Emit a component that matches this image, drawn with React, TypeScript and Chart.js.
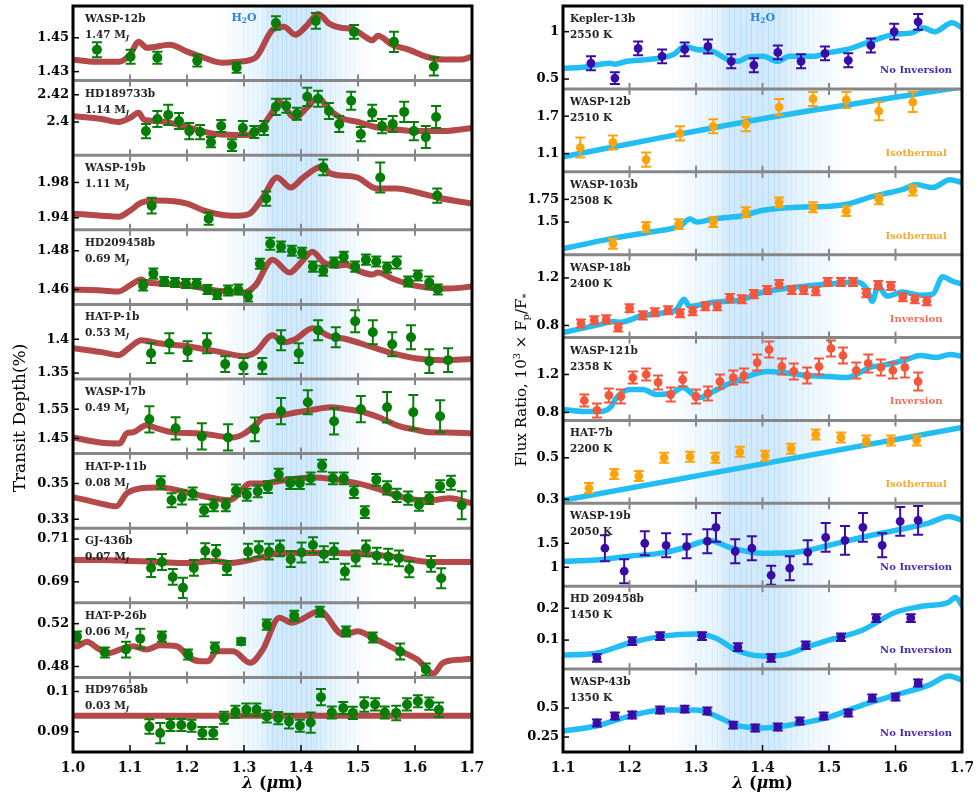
import React, { useEffect, useRef } from 'react';
import { Chart, registerables } from 'chart.js';

Chart.register(...registerables);

const SERIF = '"DejaVu Serif", "Liberation Serif", serif';

// ---------------- axis ticks ----------------
const leftXTicks = [1.0, 1.1, 1.2, 1.3, 1.4, 1.5, 1.6, 1.7];
const leftXLabels = ['1.0', '1.1', '1.2', '1.3', '1.4', '1.5', '1.6', '1.7'];
const rightXTicks = [1.1, 1.2, 1.3, 1.4, 1.5, 1.6, 1.7];
const rightXLabels = ['1.1', '1.2', '1.3', '1.4', '1.5', '1.6', '1.7'];

// H2O band profile [wavelength, strength]
const h2oBand = [[1.26, 0], [1.29, 0.09], [1.33, 0.18], [1.35, 0.34], [1.42, 0.34], [1.45, 0.2], [1.49, 0.09], [1.53, 0]];

// ---------------- transmission (left) ----------------
const wasp12Model = [[1.00,1.4371],[1.04,1.4359],[1.08,1.4359],[1.10,1.440],[1.115,1.4476],[1.13,1.4441],[1.17,1.4459],[1.20,1.4418],[1.23,1.4382],[1.26,1.4353],[1.29,1.4359],[1.32,1.4382],[1.35,1.4547],[1.37,1.4565],[1.39,1.4518],[1.41,1.4571],[1.43,1.4641],[1.45,1.4582],[1.47,1.4559],[1.49,1.4553],[1.51,1.4512],[1.525,1.4485],[1.535,1.4512],[1.56,1.4459],[1.59,1.4429],[1.62,1.4388],[1.65,1.4371],[1.68,1.4371],[1.70,1.4388]];
const wasp12Points = [[1.042,1.4429,0.0044],[1.101,1.4388,0.0041],[1.148,1.4382,0.0035],[1.218,1.4365,0.0035],[1.287,1.4324,0.003],[1.356,1.4588,0.004],[1.426,1.4600,0.0047],[1.493,1.4535,0.004],[1.563,1.4476,0.006],[1.633,1.4330,0.0053]];

const hd189733Model = [[1.00,2.4044],[1.05,2.4022],[1.08,2.400],[1.10,2.403],[1.115,2.4067],[1.125,2.4015],[1.15,2.4007],[1.20,2.3963],[1.25,2.3911],[1.30,2.3904],[1.32,2.3919],[1.35,2.4074],[1.36,2.4148],[1.39,2.403],[1.41,2.4104],[1.43,2.4178],[1.45,2.4089],[1.47,2.403],[1.50,2.400],[1.53,2.3963],[1.56,2.3948],[1.60,2.3933],[1.65,2.3933],[1.70,2.3956]];
const hd189733Points = [[1.128,2.3933,0.0052],[1.148,2.4022,0.0059],[1.167,2.4052,0.0074],[1.186,2.4007,0.0059],[1.204,2.3933,0.0059],[1.223,2.3926,0.0052],[1.242,2.3852,0.0037],[1.260,2.397,0.0044],[1.279,2.383,0.0044],[1.298,2.3956,0.0052],[1.318,2.3926,0.0044],[1.335,2.3956,0.0052],[1.356,2.4111,0.0059],[1.374,2.4119,0.0052],[1.393,2.406,0.0044],[1.411,2.4185,0.0067],[1.430,2.417,0.0059],[1.449,2.4081,0.0059],[1.467,2.3985,0.0059],[1.488,2.4156,0.0067],[1.505,2.3911,0.0052],[1.525,2.4067,0.0059],[1.542,2.397,0.0052],[1.561,2.3985,0.0059],[1.581,2.4074,0.0074],[1.598,2.3933,0.0067],[1.619,2.3889,0.0081],[1.637,2.4037,0.0081]];

const wasp19Model = [[1.00,1.9446],[1.05,1.9423],[1.08,1.9411],[1.10,1.948],[1.12,1.9571],[1.15,1.9594],[1.20,1.956],[1.23,1.948],[1.26,1.9434],[1.29,1.9423],[1.31,1.9446],[1.333,1.9629],[1.358,1.9857],[1.382,1.9743],[1.404,1.9857],[1.437,1.998],[1.451,1.9903],[1.498,1.9857],[1.533,1.9731],[1.568,1.9731],[1.604,1.9686],[1.639,1.9629],[1.70,1.956]];
const wasp19Points = [[1.138,1.9537,0.009],[1.238,1.9389,0.0069],[1.339,1.9617,0.008],[1.439,1.9971,0.009],[1.539,1.9857,0.017],[1.639,1.9651,0.008]];

const hd209458Model = [[1.00,1.46],[1.05,1.4595],[1.08,1.459],[1.10,1.4621],[1.12,1.4651],[1.13,1.4636],[1.15,1.4631],[1.20,1.4621],[1.25,1.4595],[1.30,1.4585],[1.32,1.4621],[1.35,1.4754],[1.38,1.4687],[1.40,1.4739],[1.42,1.4795],[1.44,1.4739],[1.46,1.4723],[1.48,1.4728],[1.50,1.4697],[1.525,1.4677],[1.535,1.4687],[1.56,1.4657],[1.59,1.4626],[1.62,1.4610],[1.66,1.4605],[1.70,1.4615]];
const hd209458Points = [[1.123,1.4621,0.0026],[1.141,1.4682,0.0026],[1.160,1.4641,0.0023],[1.179,1.4636,0.0023],[1.198,1.4631,0.0023],[1.217,1.4631,0.0023],[1.236,1.46,0.0023],[1.253,1.4574,0.0023],[1.272,1.4595,0.0026],[1.29,1.46,0.0026],[1.307,1.4564,0.0026],[1.328,1.4733,0.0026],[1.346,1.4836,0.0031],[1.365,1.4821,0.0026],[1.384,1.48,0.0026],[1.402,1.479,0.0026],[1.421,1.4718,0.0026],[1.439,1.4697,0.0026],[1.458,1.4739,0.0026],[1.475,1.4769,0.0026],[1.495,1.4718,0.0026],[1.514,1.4754,0.0026],[1.532,1.4744,0.0026],[1.551,1.4713,0.0026],[1.568,1.4739,0.0031],[1.588,1.4641,0.0026],[1.605,1.4672,0.0026],[1.625,1.4636,0.0031],[1.640,1.46,0.0026]];

const hatp1Model = [[1.00,1.3868],[1.05,1.3809],[1.08,1.3765],[1.10,1.3882],[1.12,1.3985],[1.15,1.3941],[1.20,1.3897],[1.25,1.3824],[1.30,1.375],[1.32,1.3809],[1.35,1.4059],[1.37,1.3956],[1.39,1.40],[1.42,1.4162],[1.45,1.4044],[1.48,1.40],[1.52,1.3897],[1.56,1.3794],[1.60,1.372],[1.65,1.3691],[1.70,1.3706]];
const hatp1Points = [[1.137,1.3794,0.0147],[1.169,1.3941,0.0147],[1.201,1.3824,0.0147],[1.235,1.3941,0.0147],[1.267,1.3632,0.0118],[1.299,1.3603,0.0118],[1.332,1.3603,0.0118],[1.365,1.3985,0.0147],[1.396,1.3794,0.0147],[1.43,1.4132,0.0147],[1.461,1.4029,0.0147],[1.495,1.4265,0.0162],[1.526,1.4103,0.0176],[1.56,1.3926,0.0176],[1.593,1.4029,0.0176],[1.625,1.3676,0.0176],[1.658,1.3691,0.0176]];

const wasp17Model = [[1.00,1.4534],[1.047,1.436],[1.082,1.4328],[1.094,1.4672],[1.105,1.4707],[1.129,1.4948],[1.147,1.4845],[1.175,1.4707],[1.223,1.4672],[1.281,1.4534],[1.30,1.466],[1.323,1.5017],[1.333,1.522],[1.36,1.528],[1.393,1.5397],[1.42,1.548],[1.451,1.557],[1.48,1.55],[1.509,1.54],[1.54,1.52],[1.568,1.4948],[1.60,1.48],[1.626,1.4707],[1.66,1.47],[1.70,1.4672]];
const wasp17Points = [[1.134,1.5155,0.045],[1.18,1.4845,0.038],[1.226,1.4569,0.045],[1.272,1.4534,0.045],[1.319,1.481,0.041],[1.365,1.5431,0.045],[1.412,1.5741,0.041],[1.458,1.5086,0.045],[1.505,1.55,0.045],[1.551,1.5569,0.052],[1.597,1.5397,0.059],[1.644,1.5259,0.055]];

const hatp11Model = [[1.00,0.3424],[1.047,0.3389],[1.076,0.3372],[1.094,0.3444],[1.117,0.3472],[1.152,0.3478],[1.223,0.3433],[1.275,0.3406],[1.311,0.35],[1.333,0.35],[1.368,0.3517],[1.421,0.3533],[1.491,0.3506],[1.526,0.3478],[1.586,0.3417],[1.626,0.3406],[1.661,0.3417],[1.70,0.3389]];
const hatp11Points = [[1.154,0.3506,0.0035],[1.173,0.3406,0.0039],[1.191,0.3422,0.0039],[1.21,0.3444,0.0033],[1.23,0.335,0.0033],[1.247,0.3378,0.0033],[1.268,0.3378,0.0033],[1.286,0.3461,0.0033],[1.305,0.3437,0.0033],[1.324,0.3456,0.0033],[1.342,0.348,0.0033],[1.361,0.355,0.0033],[1.381,0.3502,0.0033],[1.398,0.3502,0.0033],[1.417,0.3529,0.0033],[1.437,0.36,0.0033],[1.456,0.3529,0.0033],[1.475,0.3529,0.0033],[1.493,0.3452,0.0033],[1.512,0.334,0.0033],[1.532,0.352,0.0033],[1.551,0.3476,0.0037],[1.568,0.3433,0.0037],[1.588,0.3418,0.0037],[1.607,0.3381,0.0033],[1.625,0.3418,0.0033],[1.644,0.3485,0.0033],[1.663,0.3504,0.0039],[1.682,0.3378,0.0078]];

const gj436Model = [[1.00,0.7002],[1.05,0.7002],[1.10,0.6998],[1.15,0.6993],[1.20,0.6988],[1.25,0.6998],[1.275,0.6988],[1.333,0.7016],[1.363,0.7035],[1.451,0.7035],[1.51,0.703],[1.568,0.7016],[1.626,0.6993],[1.70,0.6993]];
const gj436Points = [[1.137,0.6965,0.0042],[1.156,0.6993,0.0037],[1.175,0.6923,0.0037],[1.193,0.6872,0.0047],[1.212,0.6965,0.0037],[1.232,0.7044,0.0037],[1.251,0.7035,0.0037],[1.27,0.6965,0.0033],[1.307,0.7041,0.0037],[1.326,0.7053,0.0037],[1.344,0.7041,0.0037],[1.363,0.7057,0.0037],[1.382,0.7006,0.0037],[1.401,0.7037,0.0047],[1.421,0.7072,0.0037],[1.440,0.7029,0.0037],[1.458,0.7044,0.0037],[1.477,0.6948,0.0037],[1.496,0.701,0.0037],[1.514,0.7057,0.0037],[1.533,0.7022,0.0037],[1.553,0.7018,0.0037],[1.572,0.701,0.0037],[1.590,0.6959,0.0037],[1.628,0.6984,0.0037],[1.646,0.6917,0.0047]];

const hatp26Model = [[1.00,0.4989],[1.007,0.4989],[1.024,0.503],[1.047,0.4958],[1.065,0.4927],[1.082,0.4958],[1.105,0.4989],[1.129,0.4958],[1.152,0.4998],[1.182,0.4989],[1.205,0.4881],[1.223,0.4849],[1.237,0.4849],[1.252,0.4942],[1.281,0.4942],[1.311,0.4834],[1.333,0.4958],[1.362,0.5256],[1.384,0.5209],[1.433,0.5315],[1.474,0.5098],[1.50,0.5129],[1.521,0.5082],[1.561,0.4974],[1.604,0.4865],[1.632,0.4735],[1.649,0.4834],[1.684,0.4865],[1.70,0.4872]];
const hatp26Points = [[1.007,0.5079,0.0047],[1.056,0.493,0.0047],[1.093,0.4958,0.0074],[1.118,0.506,0.0093],[1.156,0.5079,0.0047],[1.202,0.4912,0.0047],[1.249,0.4977,0.0047],[1.295,0.5033,0.003],[1.340,0.5191,0.0047],[1.388,0.5274,0.0047],[1.433,0.5312,0.0047],[1.479,0.5126,0.0047],[1.526,0.507,0.0047],[1.574,0.494,0.0074],[1.619,0.4772,0.0056]];

const hd97658Model = [[1.0,0.094],[1.7,0.094]];
const hd97658Points = [[1.134,0.0913,0.0018],[1.153,0.0897,0.0025],[1.171,0.0917,0.0015],[1.190,0.0917,0.0015],[1.208,0.0915,0.0015],[1.227,0.0897,0.0015],[1.246,0.0897,0.0015],[1.265,0.0935,0.0015],[1.285,0.095,0.0015],[1.304,0.0955,0.0015],[1.322,0.0955,0.0015],[1.34,0.0938,0.0015],[1.36,0.0934,0.0015],[1.379,0.0926,0.0018],[1.398,0.0915,0.0015],[1.417,0.0923,0.0025],[1.435,0.0986,0.002],[1.454,0.0948,0.0015],[1.474,0.0959,0.0015],[1.491,0.0947,0.0015],[1.511,0.0968,0.0018],[1.53,0.0968,0.0015],[1.547,0.0948,0.0015],[1.567,0.0947,0.0018],[1.586,0.0968,0.0015],[1.605,0.0976,0.0015],[1.625,0.097,0.0015],[1.642,0.0955,0.0018]];

// ---------------- emission (right) ----------------
const kepler13EmModel = [[1.1,0.6146],[1.13,0.625],[1.171,0.667],[1.178,0.656],[1.196,0.6875],[1.231,0.708],[1.266,0.76],[1.283,0.844],[1.301,0.8125],[1.326,0.79],[1.347,0.708],[1.363,0.6875],[1.377,0.729],[1.401,0.74],[1.422,0.6875],[1.441,0.74],[1.476,0.74],[1.501,0.781],[1.527,0.8125],[1.562,0.896],[1.596,0.969],[1.626,0.99],[1.641,1.042],[1.659,1.0],[1.685,1.094],[1.70,1.042]];
const kepler13EmPoints = [[1.142,0.667,0.073],[1.178,0.5104,0.0625],[1.213,0.8229,0.073],[1.249,0.7396,0.073],[1.283,0.8125,0.073],[1.318,0.8438,0.073],[1.353,0.6875,0.073],[1.387,0.6458,0.073],[1.423,0.7812,0.073],[1.458,0.6875,0.073],[1.494,0.7708,0.073],[1.529,0.6979,0.073],[1.563,0.8542,0.073],[1.598,1.0,0.083],[1.634,1.1042,0.083]];

const wasp12EmModel = [[1.1,1.05],[1.25,1.36],[1.4,1.66],[1.55,1.92],[1.7,2.17]];
const wasp12EmPoints = [[1.126,1.197,0.16],[1.175,1.278,0.113],[1.225,1.003,0.113],[1.276,1.424,0.113],[1.326,1.538,0.113],[1.375,1.57,0.113],[1.425,1.846,0.13],[1.476,1.976,0.113],[1.526,1.96,0.13],[1.575,1.781,0.146],[1.626,1.927,0.16]];

const wasp103EmModel = [[1.1,1.207],[1.171,1.315],[1.231,1.391],[1.276,1.457],[1.291,1.533],[1.301,1.50],[1.326,1.533],[1.351,1.554],[1.366,1.565],[1.401,1.63],[1.452,1.663],[1.501,1.674],[1.527,1.696],[1.566,1.783],[1.592,1.826],[1.611,1.859],[1.631,1.913],[1.656,1.88],[1.682,1.967],[1.70,1.935]];
const wasp103EmPoints = [[1.175,1.261,0.054],[1.225,1.446,0.054],[1.274,1.478,0.054],[1.326,1.5,0.054],[1.375,1.609,0.054],[1.425,1.717,0.054],[1.476,1.663,0.054],[1.526,1.62,0.054],[1.575,1.75,0.054],[1.626,1.848,0.054]];

const wasp18EmModel = [[1.1,0.74],[1.156,0.809],[1.175,0.834],[1.186,0.826],[1.216,0.877],[1.256,0.911],[1.271,0.936],[1.282,1.021],[1.29,0.962],[1.326,0.996],[1.366,1.013],[1.401,1.081],[1.452,1.123],[1.501,1.149],[1.542,1.166],[1.557,1.106],[1.565,1.004],[1.574,1.132],[1.587,1.047],[1.611,1.081],[1.637,1.055],[1.656,1.064],[1.671,1.209],[1.685,1.174],[1.70,1.149]];
const wasp18EmPoints = [[1.127,0.817,0.034],[1.147,0.843,0.034],[1.165,0.851,0.034],[1.183,0.783,0.034],[1.2,0.945,0.034],[1.22,0.885,0.034],[1.238,0.911,0.034],[1.258,0.928,0.034],[1.276,0.902,0.034],[1.295,0.919,0.034],[1.314,0.962,0.034],[1.332,0.962,0.034],[1.351,1.03,0.034],[1.369,1.021,0.034],[1.387,1.064,0.034],[1.407,1.098,0.034],[1.425,1.149,0.034],[1.444,1.098,0.034],[1.462,1.098,0.034],[1.48,1.089,0.034],[1.498,1.166,0.034],[1.518,1.166,0.034],[1.536,1.166,0.034],[1.556,1.072,0.034],[1.574,1.14,0.034],[1.593,1.132,0.034],[1.611,1.038,0.034],[1.629,1.021,0.034],[1.647,1.004,0.034]];

const wasp121EmModel = [[1.1,0.832],[1.13,0.811],[1.156,0.811],[1.171,0.853],[1.181,0.958],[1.2,1.042],[1.22,1.042],[1.241,0.989],[1.266,1.011],[1.28,1.063],[1.296,0.989],[1.306,0.958],[1.326,1.021],[1.347,1.095],[1.366,1.147],[1.377,1.179],[1.407,1.232],[1.431,1.221],[1.467,1.189],[1.501,1.179],[1.527,1.168],[1.562,1.274],[1.587,1.305],[1.617,1.358],[1.637,1.4],[1.662,1.379],[1.682,1.411],[1.70,1.389]];
const wasp121EmPoints = [[1.132,0.926,0.063],[1.151,0.821,0.074],[1.169,0.979,0.074],[1.187,0.968,0.074],[1.205,1.168,0.063],[1.225,1.2,0.063],[1.243,1.116,0.074],[1.262,0.989,0.074],[1.28,1.147,0.074],[1.3,0.968,0.074],[1.318,1.0,0.074],[1.336,1.126,0.074],[1.356,1.168,0.074],[1.372,1.189,0.074],[1.392,1.326,0.084],[1.41,1.463,0.084],[1.429,1.284,0.084],[1.447,1.232,0.084],[1.467,1.189,0.084],[1.485,1.284,0.084],[1.503,1.474,0.084],[1.521,1.4,0.084],[1.541,1.242,0.084],[1.559,1.316,0.095],[1.578,1.274,0.084],[1.596,1.242,0.084],[1.614,1.274,0.105],[1.634,1.126,0.095]];

const hat7EmModel = [[1.1,0.295],[1.7,0.646]];
const hat7EmPoints = [[1.139,0.354,0.024],[1.177,0.422,0.024],[1.214,0.412,0.024],[1.252,0.5,0.024],[1.291,0.505,0.024],[1.329,0.5,0.024],[1.366,0.529,0.024],[1.404,0.51,0.024],[1.443,0.544,0.024],[1.48,0.612,0.024],[1.518,0.598,0.024],[1.556,0.583,0.024],[1.593,0.583,0.024],[1.632,0.583,0.024]];

const wasp19EmModel = [[1.1,1.125],[1.15,1.15],[1.2,1.23],[1.25,1.3],[1.28,1.396],[1.32,1.56],[1.35,1.417],[1.4,1.29],[1.45,1.312],[1.5,1.458],[1.55,1.625],[1.6,1.77],[1.65,1.92],[1.68,2.06],[1.7,1.98]];
const wasp19EmPoints = [[1.163,1.396,0.27],[1.192,0.917,0.25],[1.223,1.5,0.25],[1.255,1.458,0.25],[1.286,1.437,0.25],[1.317,1.542,0.25],[1.330,1.833,0.3],[1.359,1.333,0.25],[1.384,1.396,0.25],[1.413,0.833,0.2],[1.441,0.979,0.25],[1.468,1.312,0.25],[1.495,1.625,0.3],[1.524,1.562,0.3],[1.551,1.833,0.3],[1.580,1.458,0.25],[1.607,1.958,0.3],[1.634,1.979,0.3]];

const hd209458EmModel = [[1.1,0.053],[1.15,0.059],[1.2,0.091],[1.25,0.1125],[1.3,0.119],[1.33,0.106],[1.36,0.069],[1.4,0.05],[1.43,0.053],[1.47,0.081],[1.5,0.1],[1.55,0.131],[1.6,0.1875],[1.64,0.206],[1.68,0.219],[1.69,0.234],[1.7,0.209]];
const hd209458EmPoints = [[1.151,0.044,0.012],[1.204,0.097,0.012],[1.246,0.1125,0.012],[1.309,0.1125,0.012],[1.363,0.078,0.012],[1.413,0.044,0.012],[1.465,0.084,0.012],[1.518,0.109,0.012],[1.571,0.169,0.012],[1.623,0.169,0.012]];

const wasp43EmModel = [[1.1,0.302],[1.15,0.345],[1.2,0.431],[1.25,0.483],[1.3,0.483],[1.33,0.431],[1.36,0.353],[1.4,0.328],[1.45,0.362],[1.5,0.422],[1.55,0.526],[1.6,0.612],[1.65,0.698],[1.68,0.776],[1.7,0.741]];
const wasp43EmPoints = [[1.151,0.371,0.03],[1.178,0.431,0.03],[1.204,0.44,0.03],[1.246,0.483,0.03],[1.283,0.491,0.03],[1.317,0.474,0.03],[1.356,0.353,0.03],[1.389,0.328,0.03],[1.423,0.336,0.03],[1.456,0.388,0.03],[1.492,0.431,0.03],[1.529,0.457,0.03],[1.565,0.586,0.03],[1.6,0.595,0.03],[1.634,0.716,0.03]];

// ---------------- colors ----------------
const GREEN = '#067d06';
const INDIGO = '#3a0ca5';
const ORANGE = '#ffa30a';
const RED = '#f4573c';
const NOTE = { no: '#4a2ab2', iso: '#f7a833', inv: '#f26e5c' };

const leftPanels = [
  { name: 'WASP-12b', info: '1.47', model: wasp12Model, pts: wasp12Points, min: 1.4247, max: 1.4688, ticks: [1.43, 1.45], labels: ['1.43', '1.45'], color: GREEN },
  { name: 'HD189733b', info: '1.14', model: hd189733Model, pts: hd189733Points, min: 2.3756, max: 2.4304, ticks: [2.4, 2.42], labels: ['2.4', '2.42'], color: GREEN },
  { name: 'WASP-19b', info: '1.11', model: wasp19Model, pts: wasp19Points, min: 1.9263, max: 2.0109, ticks: [1.94, 1.98], labels: ['1.94', '1.98'], color: GREEN },
  { name: 'HD209458b', info: '0.69', model: hd209458Model, pts: hd209458Points, min: 1.4523, max: 1.4908, ticks: [1.46, 1.48], labels: ['1.46', '1.48'], color: GREEN },
  { name: 'HAT-P-1b', info: '0.53', model: hatp1Model, pts: hatp1Points, min: 1.3412, max: 1.4515, ticks: [1.35, 1.4], labels: ['1.35', '1.4'], color: GREEN },
  { name: 'WASP-17b', info: '0.49', model: wasp17Model, pts: wasp17Points, min: 1.398, max: 1.6534, ticks: [1.45, 1.55], labels: ['1.45', '1.55'], color: GREEN },
  { name: 'HAT-P-11b', info: '0.08', model: hatp11Model, pts: hatp11Points, min: 0.325, max: 0.3667, ticks: [0.33, 0.35], labels: ['0.33', '0.35'], color: GREEN },
  { name: 'GJ-436b', info: '0.07', model: gj436Model, pts: gj436Points, min: 0.6802, max: 0.7151, ticks: [0.69, 0.71], labels: ['0.69', '0.71'], color: GREEN },
  { name: 'HAT-P-26b', info: '0.06', model: hatp26Model, pts: hatp26Points, min: 0.4698, max: 0.5395, ticks: [0.48, 0.52], labels: ['0.48', '0.52'], color: GREEN },
  { name: 'HD97658b', info: '0.03', model: hd97658Model, pts: hd97658Points, min: 0.085, max: 0.1035, ticks: [0.09, 0.1], labels: ['0.09', '0.1'], color: GREEN },
];

const rightPanels = [
  { name: 'Kepler-13b', info: '2550 K', model: kepler13EmModel, pts: kepler13EmPoints, min: 0.396, max: 1.271, ticks: [0.5, 1], labels: ['0.5', '1'], color: INDIGO, note: 'No Inversion', noteColor: NOTE.no },
  { name: 'WASP-12b', info: '2510 K', model: wasp12EmModel, pts: wasp12EmPoints, min: 0.808, max: 2.138, ticks: [1.1, 1.7], labels: ['1.1', '1.7'], color: ORANGE, note: 'Isothermal', noteColor: NOTE.iso },
  { name: 'WASP-103b', info: '2508 K', model: wasp103EmModel, pts: wasp103EmPoints, min: 1.141, max: 2.054, ticks: [1.5, 1.75], labels: ['1.5', '1.75'], color: ORANGE, note: 'Isothermal', noteColor: NOTE.iso },
  { name: 'WASP-18b', info: '2400 K', model: wasp18EmModel, pts: wasp18EmPoints, min: 0.698, max: 1.396, ticks: [0.8, 1.2], labels: ['0.8', '1.2'], color: RED, note: 'Inversion', noteColor: NOTE.inv },
  { name: 'WASP-121b', info: '2358 K', model: wasp121EmModel, pts: wasp121EmPoints, min: 0.716, max: 1.589, ticks: [0.8, 1.2], labels: ['0.8', '1.2'], color: RED, note: 'Inversion', noteColor: NOTE.inv },
  { name: 'HAT-7b', info: '2200 K', model: hat7EmModel, pts: hat7EmPoints, min: 0.2805, max: 0.68, ticks: [0.3, 0.5], labels: ['0.3', '0.5'], color: ORANGE, note: 'Isothermal', noteColor: NOTE.iso },
  { name: 'WASP-19b', info: '2050 K', model: wasp19EmModel, pts: wasp19EmPoints, min: 0.604, max: 2.333, ticks: [1, 1.5], labels: ['1', '1.5'], color: INDIGO, note: 'No Inversion', noteColor: NOTE.no },
  { name: 'HD 209458b', info: '1450 K', model: hd209458EmModel, pts: hd209458EmPoints, min: 0.009, max: 0.269, ticks: [0.1, 0.2], labels: ['0.1', '0.2'], color: INDIGO, note: 'No Inversion', noteColor: NOTE.no },
  { name: 'WASP-43b', info: '1350 K', model: wasp43EmModel, pts: wasp43EmPoints, min: 0.121, max: 0.836, ticks: [0.25, 0.5], labels: ['0.25', '0.5'], color: INDIGO, note: 'No Inversion', noteColor: NOTE.no },
];

const leftCfg = {
  key: 'L', left: 0, w: 500, padL: 8, padR: 28, yW: 65,
  xmin: 1.0, xmax: 1.7, xTicks: leftXTicks, xLabels: leftXLabels, panels: leftPanels,
  lineColor: 'rgba(172,58,58,0.92)', lineWidth: 6, ptRadius: 5, cap: 5,
  labelDx: 12, massUnit: true, h2oAt: 1.30, noteAt: 1.631,
  yTitle: [{ t: 'Transit Depth(%)', f: `17px ${SERIF}` }], yTitleX: 25, yTitleY: 418,
};
const rightCfg = {
  key: 'R', left: 480, w: 498, padL: 8, padR: 16, yW: 75,
  xmin: 1.1, xmax: 1.7, xTicks: rightXTicks, xLabels: rightXLabels, panels: rightPanels,
  lineColor: '#22bdf2', lineWidth: 5.5, ptRadius: 4.4, cap: 5,
  labelDx: 7, massUnit: false, h2oAt: 1.40, noteAt: 1.631,
  yTitle: [
    { t: 'Flux Ratio, 10', f: `15px ${SERIF}` },
    { t: '3', f: `10px ${SERIF}`, dy: -6 },
    { t: ' × F', f: `15px ${SERIF}` },
    { t: 'p', f: `10px ${SERIF}`, dy: 3 },
    { t: '/F', f: `15px ${SERIF}` },
    { t: '*', f: `10px ${SERIF}`, dy: 3 },
  ],
  yTitleX: 46, yTitleY: 380,
};

function richWidth(ctx: any, segs: any[]) {
  let w = 0;
  for (const s of segs) { ctx.font = s.f; w += ctx.measureText(s.t).width; }
  return w;
}
function drawRich(ctx: any, segs: any[], x: number, y: number, align: string) {
  let cx = align === 'center' ? x - richWidth(ctx, segs) / 2 : x;
  ctx.textAlign = 'left';
  ctx.textBaseline = 'alphabetic';
  for (const s of segs) {
    ctx.font = s.f;
    ctx.fillText(s.t, cx, y + (s.dy || 0));
    cx += ctx.measureText(s.t).width;
  }
}
function bandAlpha(l: number) {
  for (let i = 0; i < h2oBand.length - 1; i++) {
    const [a0, v0] = h2oBand[i];
    const [a1, v1] = h2oBand[i + 1];
    if (l >= a0 && l <= a1) return v0 + ((l - a0) / (a1 - a0)) * (v1 - v0);
  }
  return 0;
}
function line(ctx: any, x0: number, y0: number, x1: number, y1: number) {
  ctx.beginPath(); ctx.moveTo(x0, y0); ctx.lineTo(x1, y1); ctx.stroke();
}

function makePlugin(c: any) {
  return {
    id: 'panels' + c.key,
    beforeDatasetsDraw(chart: any) {
      const { ctx, chartArea: a } = chart;
      const xs = chart.scales.x;
      const l0 = h2oBand[0][0];
      const l1 = h2oBand[h2oBand.length - 1][0];
      const x0 = xs.getPixelForValue(l0);
      const x1 = xs.getPixelForValue(l1);
      ctx.save();
      ctx.beginPath(); ctx.rect(a.left, a.top, a.width, a.height); ctx.clip();
      const g = ctx.createLinearGradient(x0, 0, x1, 0);
      h2oBand.forEach(([l, al]) => g.addColorStop((l - l0) / (l1 - l0), `rgba(122,192,245,${al})`));
      ctx.fillStyle = g;
      ctx.fillRect(x0, a.top, x1 - x0, a.height);
      ctx.lineWidth = 1;
      for (let l = l0 + 0.004; l <= l1; l += 0.0085) {
        const al = bandAlpha(l);
        ctx.strokeStyle = `rgba(105,178,238,${al * 0.6})`;
        const px = Math.round(xs.getPixelForValue(l)) + 0.5;
        line(ctx, px, a.top, px, a.bottom);
      }
      ctx.restore();
    },
    beforeDatasetDraw(chart: any, args: any) {
      const ds = chart.data.datasets[args.index];
      const ys = chart.scales[ds.yAxisID];
      const { ctx, chartArea: a } = chart;
      ctx.save();
      ctx.beginPath(); ctx.rect(a.left, ys.top, a.width, ys.bottom - ys.top); ctx.clip();
      if (ds.errs) {
        const xs = chart.scales.x;
        ctx.strokeStyle = ds.errColor;
        ctx.lineWidth = 2;
        ds.data.forEach((d: any, j: number) => {
          const e = ds.errs[j];
          const px = xs.getPixelForValue(d.x);
          const yt = ys.getPixelForValue(d.y + e);
          const yb = ys.getPixelForValue(d.y - e);
          ctx.beginPath();
          ctx.moveTo(px, yt); ctx.lineTo(px, yb);
          ctx.moveTo(px - c.cap, yt); ctx.lineTo(px + c.cap, yt);
          ctx.moveTo(px - c.cap, yb); ctx.lineTo(px + c.cap, yb);
          ctx.stroke();
        });
      }
    },
    afterDatasetDraw(chart: any) {
      chart.ctx.restore();
    },
    afterDraw(chart: any) {
      const { ctx, chartArea: a } = chart;
      const xs = chart.scales.x;
      const n = c.panels.length;
      ctx.save();
      // separators
      for (let i = 1; i < n; i++) {
        const y = chart.scales['y' + i].top;
        ctx.strokeStyle = '#878787';
        ctx.lineWidth = 3;
        line(ctx, a.left, y, a.right, y);
        ctx.lineWidth = 2;
        c.xTicks.forEach((v: number) => {
          if (v <= c.xmin || v >= c.xmax) return;
          const px = xs.getPixelForValue(v);
          line(ctx, px, y - 6, px, y + 6);
        });
      }
      // y tick marks (inward)
      ctx.strokeStyle = '#000';
      ctx.lineWidth = 1.5;
      c.panels.forEach((p: any, i: number) => {
        const ys = chart.scales['y' + i];
        p.ticks.forEach((v: number) => {
          const py = ys.getPixelForValue(v);
          line(ctx, a.left, py, a.left + 6, py);
        });
      });
      // bottom ticks
      c.xTicks.forEach((v: number) => {
        if (v <= c.xmin || v >= c.xmax) return;
        const px = xs.getPixelForValue(v);
        line(ctx, px, a.bottom, px, a.bottom - 7);
      });
      // frame
      ctx.lineWidth = 3;
      ctx.strokeStyle = '#000';
      ctx.strokeRect(a.left, a.top, a.right - a.left, a.bottom - a.top);
      // labels
      c.panels.forEach((p: any, i: number) => {
        const ys = chart.scales['y' + i];
        ctx.fillStyle = '#222';
        drawRich(ctx, [{ t: p.name, f: `bold 10.5px ${SERIF}` }], a.left + c.labelDx, ys.top + 16, 'left');
        const info = c.massUnit
          ? [{ t: p.info + ' M', f: `bold 10.5px ${SERIF}` }, { t: 'J', f: `italic bold 7px ${SERIF}`, dy: 2 }]
          : [{ t: p.info, f: `bold 10.5px ${SERIF}` }];
        drawRich(ctx, info, a.left + c.labelDx, ys.top + 32, 'left');
        if (p.note) {
          ctx.fillStyle = p.noteColor;
          drawRich(ctx, [{ t: p.note, f: `bold 10px ${SERIF}` }], xs.getPixelForValue(c.noteAt), ys.bottom - 16, 'center');
        }
      });
      // H2O label
      ctx.fillStyle = '#2f86e0';
      drawRich(ctx, [
        { t: 'H', f: `bold 11px ${SERIF}` },
        { t: '2', f: `bold 7.5px ${SERIF}`, dy: 2 },
        { t: 'O', f: `bold 11px ${SERIF}` },
      ], xs.getPixelForValue(c.h2oAt), a.top + 15, 'center');
      // x title
      ctx.fillStyle = '#000';
      drawRich(ctx, [
        { t: 'λ', f: `italic bold 16px ${SERIF}` },
        { t: ' (', f: `bold 16px ${SERIF}` },
        { t: 'μ', f: `italic bold 16px ${SERIF}` },
        { t: 'm)', f: `bold 16px ${SERIF}` },
      ], (a.left + a.right) / 2, 788, 'center');
      // y title
      ctx.translate(c.yTitleX, c.yTitleY);
      ctx.rotate(-Math.PI / 2);
      drawRich(ctx, c.yTitle, 0, 0, 'center');
      ctx.restore();
    },
  };
}

function buildChart(canvas: HTMLCanvasElement, c: any) {
  const datasets: any[] = [];
  c.panels.forEach((p: any, i: number) => {
    datasets.push({
      type: 'line',
      data: p.model.map((q: number[]) => ({ x: q[0], y: q[1] })),
      yAxisID: 'y' + i, xAxisID: 'x',
      borderColor: c.lineColor, borderWidth: c.lineWidth,
      pointRadius: 0, fill: false, cubicInterpolationMode: 'monotone',
      borderCapStyle: 'round', borderJoinStyle: 'round', order: 2,
    });
    datasets.push({
      type: 'line',
      data: p.pts.map((q: number[]) => ({ x: q[0], y: q[1] })),
      yAxisID: 'y' + i, xAxisID: 'x',
      showLine: false, pointRadius: c.ptRadius,
      pointBackgroundColor: p.color, pointBorderColor: p.color, pointBorderWidth: 0,
      order: 1,
      errs: p.pts.map((q: number[]) => q[2]), errColor: p.color,
    });
  });
  const tickFont = { family: SERIF, weight: 'bold', size: 13 };
  const scales: any = {
    x: {
      type: 'linear', min: c.xmin, max: c.xmax,
      afterBuildTicks: (s: any) => { s.ticks = c.xTicks.map((v: number) => ({ value: v })); },
      ticks: {
        callback: (_v: any, i: number) => c.xLabels[i],
        font: { family: SERIF, weight: 'bold', size: 14 }, color: '#111',
        padding: 8, autoSkip: false, maxRotation: 0,
      },
      grid: { display: false, drawTicks: false },
      border: { display: false },
      afterFit: (s: any) => { s.height = 42; s.paddingLeft = 0; s.paddingRight = 0; },
    },
  };
  c.panels.forEach((p: any, i: number) => {
    scales['y' + i] = {
      type: 'linear', position: 'left', stack: 'col', stackWeight: 1,
      weight: c.panels.length - i,
      min: p.min, max: p.max,
      afterBuildTicks: (s: any) => { s.ticks = p.ticks.map((v: number) => ({ value: v })); },
      ticks: {
        callback: (_v: any, idx: number) => p.labels[idx],
        font: tickFont, color: '#000', padding: 4, autoSkip: false,
      },
      grid: { display: false, drawTicks: false },
      border: { display: false },
      afterFit: (s: any) => { s.width = c.yW; s.paddingTop = 0; s.paddingBottom = 0; },
    };
  });
  return new Chart(canvas, {
    type: 'line',
    data: { datasets },
    options: {
      animation: false,
      responsive: false,
      events: [],
      layout: { autoPadding: false, padding: { left: c.padL, right: c.padR, top: 6, bottom: 0 } },
      plugins: { legend: { display: false }, tooltip: { enabled: false } },
      scales,
    } as any,
    plugins: [makePlugin(c)],
  } as any);
}

function Column({ cfg }: { cfg: any }) {
  const ref = useRef<HTMLCanvasElement>(null);
  useEffect(() => {
    const chart = buildChart(ref.current as HTMLCanvasElement, cfg);
    return () => chart.destroy();
  }, []);
  return (
    <canvas
      ref={ref}
      width={cfg.w}
      height={794}
      style={{ position: 'absolute', left: cfg.left, top: 0, width: cfg.w, height: 794, display: 'block' }}
    />
  );
}

export default function App() {
  return (
    <div style={{ position: 'absolute', left: 0, top: 0, width: 978, height: 794, background: '#fff', overflow: 'hidden' }}>
      <Column cfg={leftCfg} />
      <Column cfg={rightCfg} />
    </div>
  );
}
